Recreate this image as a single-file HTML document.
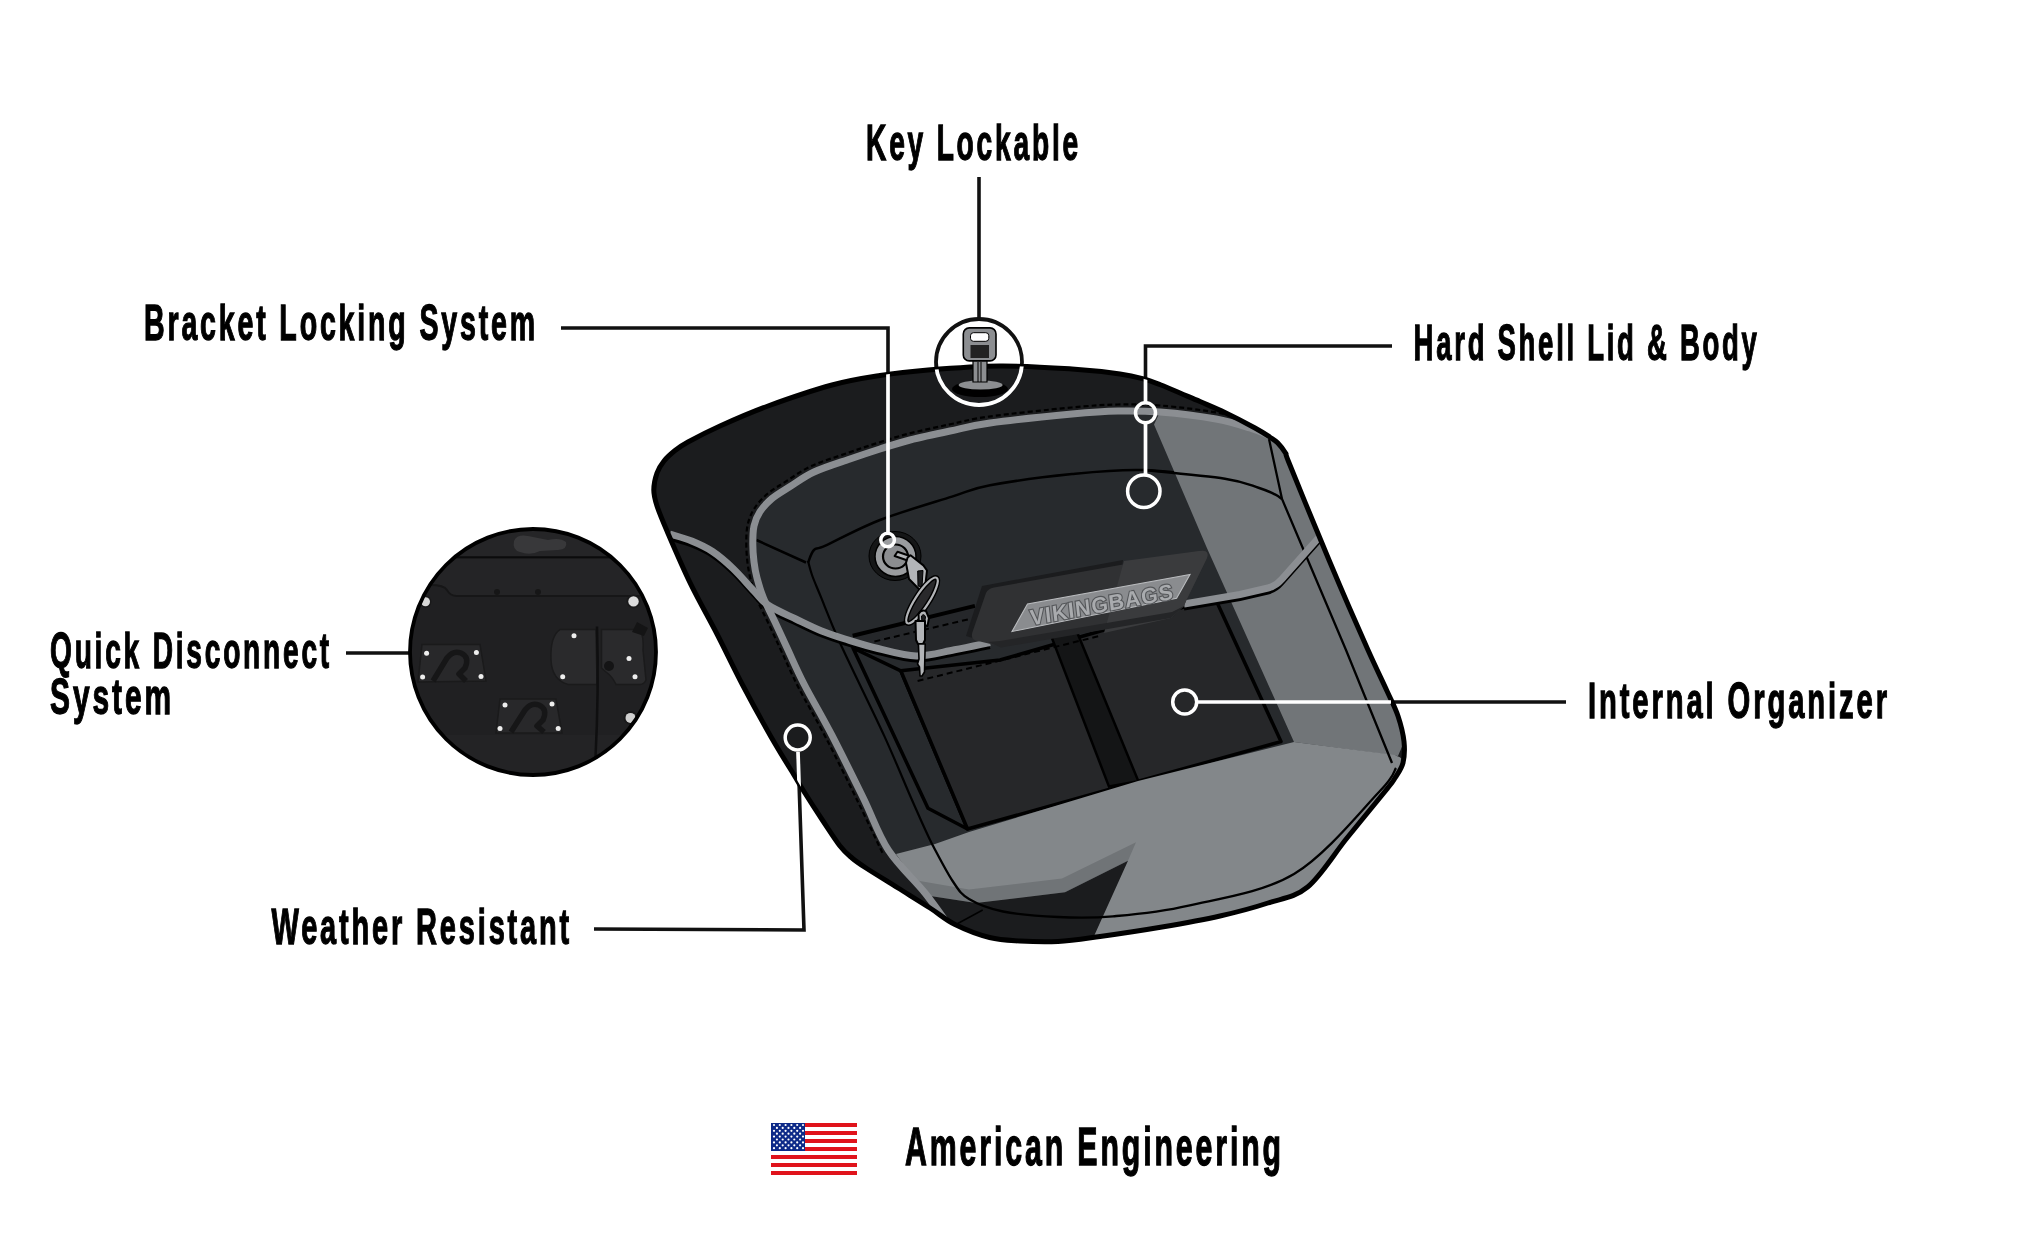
<!DOCTYPE html><html><head><meta charset="utf-8"><style>html,body{margin:0;padding:0;background:#fff;width:2044px;height:1248px;overflow:hidden}svg{display:block;will-change:transform}</style></head><body>
<svg width="2044" height="1248" viewBox="0 0 2044 1248">
<defs><clipPath id="bag"><path d="M653.8,490.0 C653.8,484.5 655.3,477.8 657.0,473.0 C658.7,468.2 661.0,464.8 664.0,461.0 C667.0,457.2 671.0,453.7 675.0,450.5 C679.0,447.3 680.5,446.1 688.0,442.0 C695.5,437.9 706.7,432.0 720.0,426.0 C733.3,420.0 749.3,412.8 768.0,406.0 C786.7,399.2 813.3,390.1 832.0,385.0 C850.7,379.9 864.0,378.0 880.0,375.5 C896.0,373.0 908.0,371.6 928.0,370.0 C948.0,368.4 976.0,366.2 1000.0,366.0 C1024.0,365.8 1052.0,367.7 1072.0,369.0 C1092.0,370.3 1108.0,372.3 1120.0,374.0 C1132.0,375.7 1137.2,377.2 1144.0,379.0 C1150.8,380.8 1155.0,382.7 1161.0,385.0 C1167.0,387.3 1173.5,390.2 1180.0,393.0 C1186.5,395.8 1192.5,398.2 1200.0,401.5 C1207.5,404.8 1215.7,408.1 1224.9,412.5 C1234.1,416.9 1247.5,423.9 1255.0,428.0 C1262.5,432.1 1265.9,434.5 1269.7,437.0 C1273.5,439.5 1275.0,440.1 1277.6,442.8 C1280.2,445.5 1283.7,449.9 1285.5,453.0 C1287.3,456.1 1284.0,450.3 1288.5,461.5 C1293.0,472.7 1303.8,499.2 1312.4,520.0 C1321.0,540.8 1330.7,564.3 1340.0,586.0 C1349.3,607.7 1360.2,632.5 1368.0,650.0 C1375.8,667.5 1382.0,680.0 1387.0,691.0 C1392.0,702.0 1395.2,707.6 1398.0,716.0 C1400.8,724.4 1403.2,733.8 1404.0,741.6 C1404.8,749.4 1404.5,756.7 1403.0,762.8 C1401.5,768.9 1397.7,773.6 1395.0,778.0 C1392.3,782.4 1395.0,779.0 1387.0,789.0 C1379.0,799.0 1360.2,821.7 1347.0,838.0 C1333.8,854.3 1320.8,876.2 1307.6,887.0 C1294.4,897.8 1282.6,898.2 1268.0,903.0 C1253.4,907.8 1237.7,912.0 1220.0,916.0 C1202.3,920.0 1182.0,923.6 1162.0,927.0 C1142.0,930.4 1117.3,934.1 1100.0,936.5 C1082.7,938.9 1071.3,940.8 1058.0,941.5 C1044.7,942.2 1031.4,941.7 1020.0,941.0 C1008.6,940.3 1000.4,940.2 989.6,937.5 C978.8,934.8 964.9,929.4 955.0,924.5 C945.1,919.6 939.5,914.1 930.0,908.0 C920.5,901.9 908.7,894.7 898.0,888.0 C887.3,881.3 873.7,873.0 866.0,868.0 C858.3,863.0 856.3,861.7 852.0,858.0 C847.7,854.3 844.8,852.2 840.0,846.0 C835.2,839.8 829.2,830.3 823.0,821.0 C816.8,811.7 807.8,797.7 803.0,790.0 C798.2,782.3 799.4,783.9 794.0,775.0 C788.6,766.1 779.4,751.4 770.8,736.4 C762.2,721.4 751.6,702.1 742.6,685.0 C733.6,667.9 725.8,651.1 717.0,634.0 C708.2,616.9 698.3,599.8 690.0,582.6 C681.7,565.4 672.5,543.8 667.0,531.0 C661.5,518.2 659.2,512.8 657.0,506.0 C654.8,499.2 653.8,495.5 653.8,490.0Z"/></clipPath><clipPath id="qd"><circle cx="533" cy="652" r="122"/></clipPath></defs>
<g stroke="#111" stroke-width="3.6" fill="none">
<path d="M979,177 L979,318"/>
<path d="M561,328 L888,328 L888,532"/>
<path d="M1392,346 L1145.5,346 L1145.5,402"/>
<path d="M1566,702 L1199,702"/>
<path d="M346,653 L412,653"/>
<path d="M594,929 L804,930 L798,752"/>
<circle cx="979" cy="362" r="43" stroke-width="3.8"/>
</g>
<path d="M653.8,490.0 C653.8,484.5 655.3,477.8 657.0,473.0 C658.7,468.2 661.0,464.8 664.0,461.0 C667.0,457.2 671.0,453.7 675.0,450.5 C679.0,447.3 680.5,446.1 688.0,442.0 C695.5,437.9 706.7,432.0 720.0,426.0 C733.3,420.0 749.3,412.8 768.0,406.0 C786.7,399.2 813.3,390.1 832.0,385.0 C850.7,379.9 864.0,378.0 880.0,375.5 C896.0,373.0 908.0,371.6 928.0,370.0 C948.0,368.4 976.0,366.2 1000.0,366.0 C1024.0,365.8 1052.0,367.7 1072.0,369.0 C1092.0,370.3 1108.0,372.3 1120.0,374.0 C1132.0,375.7 1137.2,377.2 1144.0,379.0 C1150.8,380.8 1155.0,382.7 1161.0,385.0 C1167.0,387.3 1173.5,390.2 1180.0,393.0 C1186.5,395.8 1192.5,398.2 1200.0,401.5 C1207.5,404.8 1215.7,408.1 1224.9,412.5 C1234.1,416.9 1247.5,423.9 1255.0,428.0 C1262.5,432.1 1265.9,434.5 1269.7,437.0 C1273.5,439.5 1275.0,440.1 1277.6,442.8 C1280.2,445.5 1283.7,449.9 1285.5,453.0 C1287.3,456.1 1284.0,450.3 1288.5,461.5 C1293.0,472.7 1303.8,499.2 1312.4,520.0 C1321.0,540.8 1330.7,564.3 1340.0,586.0 C1349.3,607.7 1360.2,632.5 1368.0,650.0 C1375.8,667.5 1382.0,680.0 1387.0,691.0 C1392.0,702.0 1395.2,707.6 1398.0,716.0 C1400.8,724.4 1403.2,733.8 1404.0,741.6 C1404.8,749.4 1404.5,756.7 1403.0,762.8 C1401.5,768.9 1397.7,773.6 1395.0,778.0 C1392.3,782.4 1395.0,779.0 1387.0,789.0 C1379.0,799.0 1360.2,821.7 1347.0,838.0 C1333.8,854.3 1320.8,876.2 1307.6,887.0 C1294.4,897.8 1282.6,898.2 1268.0,903.0 C1253.4,907.8 1237.7,912.0 1220.0,916.0 C1202.3,920.0 1182.0,923.6 1162.0,927.0 C1142.0,930.4 1117.3,934.1 1100.0,936.5 C1082.7,938.9 1071.3,940.8 1058.0,941.5 C1044.7,942.2 1031.4,941.7 1020.0,941.0 C1008.6,940.3 1000.4,940.2 989.6,937.5 C978.8,934.8 964.9,929.4 955.0,924.5 C945.1,919.6 939.5,914.1 930.0,908.0 C920.5,901.9 908.7,894.7 898.0,888.0 C887.3,881.3 873.7,873.0 866.0,868.0 C858.3,863.0 856.3,861.7 852.0,858.0 C847.7,854.3 844.8,852.2 840.0,846.0 C835.2,839.8 829.2,830.3 823.0,821.0 C816.8,811.7 807.8,797.7 803.0,790.0 C798.2,782.3 799.4,783.9 794.0,775.0 C788.6,766.1 779.4,751.4 770.8,736.4 C762.2,721.4 751.6,702.1 742.6,685.0 C733.6,667.9 725.8,651.1 717.0,634.0 C708.2,616.9 698.3,599.8 690.0,582.6 C681.7,565.4 672.5,543.8 667.0,531.0 C661.5,518.2 659.2,512.8 657.0,506.0 C654.8,499.2 653.8,495.5 653.8,490.0Z" fill="#1b1c1e"/>
<g clip-path="url(#bag)">
<path d="M948.5,925.0 C944.6,919.7 935.0,905.5 925.0,893.0 C915.0,880.5 898.6,865.8 888.3,850.0 C878.0,834.2 872.7,817.1 863.3,798.0 C853.9,778.9 841.9,754.4 832.0,735.4 C822.1,716.4 811.3,698.2 804.0,684.0 C796.7,669.8 792.8,660.3 788.0,650.0 C783.2,639.7 779.1,630.7 775.0,622.0 C770.9,613.3 766.5,605.3 763.5,598.0 C760.5,590.7 758.6,584.0 757.0,578.0 C755.4,572.0 754.7,567.7 754.0,562.0 C753.3,556.3 752.8,550.0 752.8,544.0 C752.8,538.0 752.8,531.4 754.0,526.0 C755.2,520.6 757.0,516.3 760.0,511.7 C763.0,507.1 767.0,502.7 772.0,498.5 C777.0,494.3 783.1,490.9 790.1,486.5 C797.1,482.1 804.0,476.6 814.0,472.0 C824.0,467.4 839.0,462.8 850.0,459.0 C861.0,455.2 870.0,452.2 880.0,449.0 C890.0,445.8 898.3,443.0 910.0,440.0 C921.7,437.0 936.7,433.8 950.0,431.0 C963.3,428.2 969.7,425.8 990.0,423.0 C1010.3,420.2 1050.7,416.0 1072.0,414.0 C1093.3,412.0 1103.3,411.3 1118.0,411.0 C1132.7,410.7 1143.7,410.7 1160.0,412.0 C1176.3,413.3 1201.0,416.3 1216.0,419.0 C1231.0,421.7 1241.0,425.2 1250.0,428.0 C1259.0,430.8 1266.7,434.7 1270.0,436.0L1270.0,436.0 L1269.0,439.0 L1282.0,499.0 L1346.0,650.0 L1392.0,763.0 L1392.0,763.0 C1389.8,767.8 1395.3,773.5 1379.0,792.0 C1362.7,810.5 1325.7,855.1 1294.0,874.0 C1262.3,892.9 1219.4,898.6 1188.6,905.6 C1157.8,912.6 1130.8,914.1 1109.0,916.0 C1087.2,917.9 1075.7,917.8 1058.0,917.0 C1040.3,916.2 1017.8,914.5 1003.0,911.5 C988.2,908.5 978.1,896.8 969.0,899.0 C959.9,901.2 951.9,920.7 948.5,925.0Z" fill="#272a2d"/>
<path d="M882.4,852.8 C878.3,844.2 866.8,819.9 857.5,800.9 C848.1,781.8 836.1,757.4 826.2,738.4 C816.4,719.4 805.6,701.3 798.2,687.0 C790.9,672.7 787.0,663.1 782.1,652.8 C777.3,642.4 773.2,633.5 769.1,624.8 C765.0,616.1 760.6,608.0 757.5,600.5 C754.4,592.9 752.4,585.9 750.7,579.7 C749.1,573.4 748.3,568.7 747.5,562.8 C746.8,556.9 746.3,550.4 746.3,544.0 C746.3,537.6 746.3,530.6 747.7,524.6 C749.0,518.6 751.2,513.3 754.6,508.1 C757.9,503.0 762.5,498.0 767.8,493.5 C773.2,489.0 779.4,485.6 786.6,481.0 C793.9,476.4 801.1,470.8 811.3,466.1 C821.5,461.4 836.7,456.7 847.9,452.9 C859.0,449.0 868.0,446.0 878.0,442.8 C888.1,439.6 896.6,436.7 908.4,433.7 C920.1,430.7 935.2,427.5 948.6,424.6 C962.1,421.8 968.6,419.4 989.1,416.6 C1009.6,413.7 1049.9,409.5 1071.4,407.5 C1092.9,405.5 1103.0,404.8 1117.9,404.5 C1132.7,404.2 1144.0,404.2 1160.5,405.5 C1177.1,406.9 1201.9,409.9 1217.1,412.6 C1232.3,415.3 1245.9,420.2 1251.7,421.7" fill="none" stroke="#000" stroke-width="2.2" stroke-dasharray="5 3"/>
<path d="M756.4,540.0 L806.0,562.5 M808.0,562.8 C809.0,560.7 811.0,552.9 814.0,550.0 C817.0,547.1 815.0,550.4 826.0,545.4 C837.0,540.4 859.0,528.1 880.0,520.0 C901.0,511.9 933.7,502.4 952.0,496.6 C970.3,490.8 970.0,489.1 990.0,485.3 C1010.0,481.5 1046.5,476.6 1072.0,474.0 C1097.5,471.4 1117.5,469.2 1143.0,470.0 C1168.5,470.8 1205.7,475.8 1224.9,478.7 C1244.2,481.6 1250.2,485.1 1258.5,487.7 C1266.8,490.3 1271.1,492.5 1275.0,494.4 C1278.9,496.3 1280.8,498.2 1282.0,499.0" fill="none" stroke="#000" stroke-width="2.5"/>
<path d="M808.0,561.0 C808.7,563.3 809.9,569.0 812.0,575.0 C814.1,581.0 816.1,585.2 820.8,596.7 C825.5,608.2 829.9,620.6 840.4,643.8 C850.9,666.9 872.1,709.4 884.0,735.4 C895.9,761.4 904.0,781.9 912.0,800.0 C920.0,818.1 925.2,830.5 932.0,844.0 C938.8,857.5 946.4,871.8 952.6,881.0 C958.8,890.2 960.6,893.9 969.0,899.0 C977.4,904.1 988.2,908.5 1003.0,911.5 C1017.8,914.5 1039.7,916.2 1058.0,917.0 C1076.3,917.8 1091.2,918.2 1113.0,916.3 C1134.8,914.4 1158.4,912.6 1188.6,905.6 C1218.8,898.6 1262.3,892.9 1294.0,874.0 C1325.7,855.1 1362.0,809.7 1379.0,792.0 C1396.0,774.3 1393.2,772.0 1396.0,768.0" fill="none" stroke="#000" stroke-width="2.2"/>
<path d="M853.0,648.0 L900.8,670.8 L967.5,829.0 L928.0,808.3Z" fill="#272a2d" stroke="#000" stroke-width="3.5" stroke-linejoin="round"/>
<path d="M852.7,635.8 L974.9,605.9 L1000,640 L916,660 L878,652Z" fill="#25272a"/>
<path d="M900.8,670.8 L1000.0,660.0 L1215.0,598.0 L1281.0,741.6 L1138.4,781.3 L967.5,829.0Z" fill="#262729" stroke="#000" stroke-width="3.5" stroke-linejoin="round"/>
<path d="M1045.0,620.0 L1070.0,615.0 L1138.4,781.3 L1109.0,786.6Z" fill="#141516" stroke="#000" stroke-width="2.5"/>
<path d="M852.7,635.8 L974.9,605.9" stroke="#000" stroke-width="4"/>
<path d="M874.4,641.5 L968.5,619.3" stroke="#000" stroke-width="2" stroke-dasharray="6 4"/>
<path d="M917.6,681 L1100,635.8" stroke="#000" stroke-width="2" stroke-dasharray="6 4"/>
<path d="M669.8,534.0 C673.4,535.2 684.6,538.1 691.7,541.0 C698.8,543.9 705.6,546.9 712.5,551.5 C719.4,556.1 726.1,561.9 733.0,568.5 C739.9,575.1 748.2,584.9 754.0,591.0 C759.8,597.1 761.0,600.3 768.0,605.0 C775.0,609.7 786.8,614.7 795.8,619.0 C804.8,623.3 813.5,627.7 821.7,631.0 C829.9,634.3 835.6,636.1 845.0,639.0 C854.4,641.9 866.1,645.7 878.0,648.5 C889.9,651.3 903.5,655.8 916.3,656.0 C929.0,656.2 942.2,652.0 954.5,649.8 C966.8,647.5 984.1,643.7 990.0,642.5" fill="none" stroke="#000" stroke-width="4" transform="translate(0,4.5)"/>
<path d="M669.8,534.0 C673.4,535.2 684.6,538.1 691.7,541.0 C698.8,543.9 705.6,546.9 712.5,551.5 C719.4,556.1 726.1,561.9 733.0,568.5 C739.9,575.1 748.2,584.9 754.0,591.0 C759.8,597.1 761.0,600.3 768.0,605.0 C775.0,609.7 786.8,614.7 795.8,619.0 C804.8,623.3 813.5,627.7 821.7,631.0 C829.9,634.3 835.6,636.1 845.0,639.0 C854.4,641.9 866.1,645.7 878.0,648.5 C889.9,651.3 903.5,655.8 916.3,656.0 C929.0,656.2 942.2,652.0 954.5,649.8 C966.8,647.5 984.1,643.7 990.0,642.5" fill="none" stroke="#8b8e92" stroke-width="7"/>
<path d="M1154.0,424.4 L1160.0,412.0 L1216.0,419.0 L1250.0,428.0 L1270.0,436.0 L1290.0,455.0 L1368.0,650.0 L1395.0,705.0 L1404.0,742.0 L1398.0,756.0 L1294.0,742.0 L1206.7,547.4Z" fill="#717578"/>
<path d="M1294.0,742.0 L1395.0,755.0 L1395.0,755.0 C1396.3,756.3 1404.3,757.3 1403.0,763.0 C1401.7,768.7 1389.7,784.7 1387.0,789.0L1387.0,789.0 C1373.7,805.3 1326.8,868.0 1307.0,887.0 C1287.2,906.0 1292.2,896.3 1268.0,903.0 C1243.8,909.7 1190.7,921.5 1162.0,927.0 C1133.3,932.5 1118.0,933.8 1096.0,936.0 C1074.0,938.2 1047.7,939.5 1030.0,940.0 C1012.3,940.5 1002.1,940.5 989.6,939.0 C977.1,937.5 962.6,933.0 955.0,930.7 C947.4,928.4 945.8,926.0 944.0,925.0L944.0,925.0 L920.0,888.0 L896.0,854.0 L935.0,844.0 L969.0,832.0 L1138.0,781.0 L1294.0,742.0 Z" fill="#83878a"/>
<path d="M914.0,880.0 L969.0,889.6 L1062.0,878.6 L1136.0,842.3 L1128.0,860.8 L1065.0,892.3 L976.0,903.0 L923.8,895.0Z" fill="#707477"/>
<path d="M923.8,895.0 L976.0,903.0 L1065.0,892.3 L1128.0,860.8 L1090.0,945.0 L989.6,948.0 L955.0,940.0 L935.0,930.0Z" fill="#1b1c1e"/>
<path d="M955,925 L982.7,910" stroke="#000" stroke-width="1.5"/>
<path d="M1143.0,470.0 C1156.7,471.4 1205.7,475.8 1224.9,478.7 C1244.2,481.6 1250.2,485.1 1258.5,487.7 C1266.8,490.3 1271.1,492.5 1275.0,494.4 C1278.9,496.3 1280.8,498.2 1282.0,499.0" fill="none" stroke="#000" stroke-width="2.5"/>
<path d="M1269.0,439.0 L1282.0,499.0 L1346.0,650.0 L1392.0,763.0" fill="none" stroke="#000" stroke-width="2.3"/>
<path d="M932.0,844.0 C935.4,850.2 946.4,871.8 952.6,881.0 C958.8,890.2 960.6,893.9 969.0,899.0 C977.4,904.1 988.2,908.5 1003.0,911.5 C1017.8,914.5 1039.7,916.2 1058.0,917.0 C1076.3,917.8 1091.2,918.2 1113.0,916.3 C1134.8,914.4 1158.4,912.6 1188.6,905.6 C1218.8,898.6 1262.3,892.9 1294.0,874.0 C1325.7,855.1 1362.0,809.7 1379.0,792.0 C1396.0,774.3 1393.2,772.0 1396.0,768.0" fill="none" stroke="#000" stroke-width="2.3"/>
<path d="M948.5,925.0 C944.6,919.7 935.0,905.5 925.0,893.0 C915.0,880.5 898.6,865.8 888.3,850.0 C878.0,834.2 872.7,817.1 863.3,798.0 C853.9,778.9 841.9,754.4 832.0,735.4 C822.1,716.4 811.3,698.2 804.0,684.0 C796.7,669.8 792.8,660.3 788.0,650.0 C783.2,639.7 779.1,630.7 775.0,622.0 C770.9,613.3 766.5,605.3 763.5,598.0 C760.5,590.7 758.6,584.0 757.0,578.0 C755.4,572.0 754.7,567.7 754.0,562.0 C753.3,556.3 752.8,550.0 752.8,544.0 C752.8,538.0 752.8,531.4 754.0,526.0 C755.2,520.6 757.0,516.3 760.0,511.7 C763.0,507.1 767.0,502.7 772.0,498.5 C777.0,494.3 783.1,490.9 790.1,486.5 C797.1,482.1 804.0,476.6 814.0,472.0 C824.0,467.4 839.0,462.8 850.0,459.0 C861.0,455.2 870.0,452.2 880.0,449.0 C890.0,445.8 898.3,443.0 910.0,440.0 C921.7,437.0 936.7,433.8 950.0,431.0 C963.3,428.2 969.7,425.8 990.0,423.0 C1010.3,420.2 1050.7,416.0 1072.0,414.0 C1093.3,412.0 1103.3,411.3 1118.0,411.0 C1132.7,410.7 1143.7,410.7 1160.0,412.0 C1176.3,413.3 1201.0,416.3 1216.0,419.0 C1231.0,421.7 1241.0,425.2 1250.0,428.0 C1259.0,430.8 1266.7,434.7 1270.0,436.0" fill="none" stroke="#8b8e92" stroke-width="7"/>
<path d="M1184,604 L1240,594.5 L1268,588 Q1276,586 1282,579 L1322,534 L1345,515" fill="none" stroke="#000" stroke-width="4" transform="translate(0,4.5)"/>
<path d="M1184,604 L1240,594.5 L1268,588 Q1276,586 1282,579 L1322,534 L1345,515" fill="none" stroke="#8b8e92" stroke-width="7"/>
</g>
<path d="M653.8,490.0 C653.8,484.5 655.3,477.8 657.0,473.0 C658.7,468.2 661.0,464.8 664.0,461.0 C667.0,457.2 671.0,453.7 675.0,450.5 C679.0,447.3 680.5,446.1 688.0,442.0 C695.5,437.9 706.7,432.0 720.0,426.0 C733.3,420.0 749.3,412.8 768.0,406.0 C786.7,399.2 813.3,390.1 832.0,385.0 C850.7,379.9 864.0,378.0 880.0,375.5 C896.0,373.0 908.0,371.6 928.0,370.0 C948.0,368.4 976.0,366.2 1000.0,366.0 C1024.0,365.8 1052.0,367.7 1072.0,369.0 C1092.0,370.3 1108.0,372.3 1120.0,374.0 C1132.0,375.7 1137.2,377.2 1144.0,379.0 C1150.8,380.8 1155.0,382.7 1161.0,385.0 C1167.0,387.3 1173.5,390.2 1180.0,393.0 C1186.5,395.8 1192.5,398.2 1200.0,401.5 C1207.5,404.8 1215.7,408.1 1224.9,412.5 C1234.1,416.9 1247.5,423.9 1255.0,428.0 C1262.5,432.1 1265.9,434.5 1269.7,437.0 C1273.5,439.5 1275.0,440.1 1277.6,442.8 C1280.2,445.5 1283.7,449.9 1285.5,453.0 C1287.3,456.1 1284.0,450.3 1288.5,461.5 C1293.0,472.7 1303.8,499.2 1312.4,520.0 C1321.0,540.8 1330.7,564.3 1340.0,586.0 C1349.3,607.7 1360.2,632.5 1368.0,650.0 C1375.8,667.5 1382.0,680.0 1387.0,691.0 C1392.0,702.0 1395.2,707.6 1398.0,716.0 C1400.8,724.4 1403.2,733.8 1404.0,741.6 C1404.8,749.4 1404.5,756.7 1403.0,762.8 C1401.5,768.9 1397.7,773.6 1395.0,778.0 C1392.3,782.4 1395.0,779.0 1387.0,789.0 C1379.0,799.0 1360.2,821.7 1347.0,838.0 C1333.8,854.3 1320.8,876.2 1307.6,887.0 C1294.4,897.8 1282.6,898.2 1268.0,903.0 C1253.4,907.8 1237.7,912.0 1220.0,916.0 C1202.3,920.0 1182.0,923.6 1162.0,927.0 C1142.0,930.4 1117.3,934.1 1100.0,936.5 C1082.7,938.9 1071.3,940.8 1058.0,941.5 C1044.7,942.2 1031.4,941.7 1020.0,941.0 C1008.6,940.3 1000.4,940.2 989.6,937.5 C978.8,934.8 964.9,929.4 955.0,924.5 C945.1,919.6 939.5,914.1 930.0,908.0 C920.5,901.9 908.7,894.7 898.0,888.0 C887.3,881.3 873.7,873.0 866.0,868.0 C858.3,863.0 856.3,861.7 852.0,858.0 C847.7,854.3 844.8,852.2 840.0,846.0 C835.2,839.8 829.2,830.3 823.0,821.0 C816.8,811.7 807.8,797.7 803.0,790.0 C798.2,782.3 799.4,783.9 794.0,775.0 C788.6,766.1 779.4,751.4 770.8,736.4 C762.2,721.4 751.6,702.1 742.6,685.0 C733.6,667.9 725.8,651.1 717.0,634.0 C708.2,616.9 698.3,599.8 690.0,582.6 C681.7,565.4 672.5,543.8 667.0,531.0 C661.5,518.2 659.2,512.8 657.0,506.0 C654.8,499.2 653.8,495.5 653.8,490.0Z" fill="none" stroke="#000" stroke-width="5" stroke-linejoin="round"/>
<path d="M966,636 L982,586 L1123,560 L1118,600 L1000,646Z" fill="#1b1c1e"/>
<path d="M978,641 Q970,640 972.5,632 L986,593 Q988,588.5 994,587.5 L1199,551 Q1210,549 1207,558 L1186,601 L1184,606 L1171,618 L1001,646.5 Z" fill="#303133"/>
<path d="M1124,561 L1199,551 Q1210,549 1207,558 L1186,601 L1184,606 L1171,618 L1104,633Z" fill="#3a3b3d"/>
<path d="M988,642 L1001,647.5 L1171,618 L1184,606 L1172,612 L1000,641Z" fill="#242527"/>
<path d="M1012,631.5 L1027.5,604 L1190,574.5 L1176.6,598.3Z" fill="#8a8c8f" stroke="#b9bbbe" stroke-width="1.1"/>
<text x="0" y="0" transform="translate(1031,625.5) rotate(-10.6) skewX(-4)" font-family="'Liberation Sans', sans-serif" font-weight="bold" font-size="22" fill="#a9abae" stroke="#55575a" stroke-width="2.2" paint-order="stroke" letter-spacing="1" textLength="146" lengthAdjust="spacingAndGlyphs">VIKINGBAGS</text>
<ellipse cx="895" cy="556" rx="26" ry="24.5" fill="#151617" stroke="#000" stroke-width="1"/>
<ellipse cx="895.5" cy="556.5" rx="20.5" ry="20" fill="#9a9c9f" stroke="#000" stroke-width="1.5"/>
<ellipse cx="895.5" cy="556.5" rx="12.5" ry="12" fill="#8b8d90" stroke="#000" stroke-width="2.2"/>
<g stroke="#000" stroke-width="2" stroke-linejoin="round">
<path d="M894.6,556 L897.5,551.7 L910,556 L909,561Z" fill="#b3b5b8"/>
<path d="M907.6,557.5 L910.5,555.3 L923.4,565.4 L927,570.5 L925,587.8 L920.6,590.7 L909,579 L906,563Z" fill="#b3b5b8"/>
<path d="M917.7,571 L923,570.5 L922,587 L918,586Z" fill="#1d1e20" stroke-width="1"/>
<ellipse cx="922" cy="600.5" rx="27" ry="6.8" transform="rotate(-57 922 600.5)" fill="#29292b" stroke="#000" stroke-width="5"/>
<ellipse cx="922" cy="600.5" rx="27" ry="6.8" transform="rotate(-57 922 600.5)" fill="none" stroke="#b3b5b8" stroke-width="2.2"/>
<path d="M919,624 L918.5,614 Q921,609 926,611 L929,618 L927.5,626Z" fill="#b3b5b8"/>
<path d="M921.5,616 Q924,613 925.5,617 L924.5,623 L922,623Z" fill="#1d1e20" stroke-width="1"/>
<path d="M915.5,621 L925,621 L925,640 L923,644 L918,644 L916,640Z" fill="#b3b5b8"/>
<path d="M918.4,644 L925.2,644 L924.5,672 L922,676 L920,676 L919.5,667 L917.5,664 L919,659Z" fill="#b3b5b8" stroke-width="1.6"/>
</g>
<ellipse cx="980" cy="389" rx="28" ry="8" fill="#000"/>
<ellipse cx="980.6" cy="385" rx="22" ry="4.5" fill="#8c8e91"/>
<path d="M973,360 L987,360 L987,382 L973,382Z" fill="#8c8e91" stroke="#000" stroke-width="1.2"/>
<path d="M978,362 L978,382 M981,362 L981,382" stroke="#000" stroke-width="1"/>
<rect x="963.3" y="327.9" width="32.7" height="33" rx="6" fill="#8c8e91" stroke="#000" stroke-width="1.6"/>
<rect x="970.5" y="332.7" width="18.3" height="8.6" rx="3" fill="#fff" stroke="#000" stroke-width="1"/>
<rect x="970.5" y="345" width="18.5" height="13" fill="#222"/>
<g clip-path="url(#bag)" stroke="#fff" stroke-width="3.7" fill="none">
<circle cx="979" cy="362" r="43" stroke-width="3.8"/>
<path d="M888,320 L888,533"/>
<path d="M1145.5,360 L1145.5,403"/>
<path d="M1145.5,423 L1145.5,475"/>
<path d="M1391,702 L1198,702"/>
<path d="M798,752 L799.6,800"/>
</g>
<g stroke="#fff" stroke-width="3.5" fill="none">
<circle cx="887.6" cy="540" r="6.8"/>
<circle cx="1145.5" cy="412.8" r="10"/>
<circle cx="1143.8" cy="491.3" r="16.2"/>
<circle cx="1184.7" cy="702" r="12"/>
<circle cx="797.7" cy="737.5" r="12.5"/>
</g>
<g clip-path="url(#qd)">
<rect x="400" y="520" width="270" height="270" fill="#202022"/>
<rect x="400" y="520" width="270" height="37" fill="#252527"/>
<path d="M520,552 Q512,550 514,541 Q517,534 528,536 L548,540 Q560,537 566,542 Q568,549 558,550 L540,551 Q530,556 520,552Z" fill="#38383a"/>
<path d="M455,557.5 L640,557.5" stroke="#0b0b0c" stroke-width="2.5"/>
<path d="M400,558.5 L670,558.5 L670,596 L455,596 Q450,596 447,590 Q444,585 436,585 L400,585Z" fill="#242426"/>
<path d="M430,585 Q444,585 447,590 Q450,596 457,596 L640,596" fill="none" stroke="#161617" stroke-width="1.8"/>
<circle cx="497" cy="592" r="3" fill="#161617"/><circle cx="538" cy="592" r="3" fill="#161617"/>
<circle cx="425.5" cy="601.8" r="6" fill="#19191a"/><circle cx="425.5" cy="601.8" r="4.5" fill="#d8d8d8"/>
<circle cx="633.5" cy="601.4" r="7" fill="#19191a"/><circle cx="633.5" cy="601.4" r="5.2" fill="#dcdcdc"/>
<circle cx="630.5" cy="717.9" r="7" fill="#19191a"/><circle cx="630.5" cy="717.9" r="5" fill="#d0d0d0"/>
<rect x="400" y="735" width="270" height="60" fill="#232325"/>
<path d="M422,644.5 L480,644.5 L486,681 L418,682Z" fill="#28282a" stroke="#1a1a1b" stroke-width="1.5"/>
<path d="M433,681 L447,658 Q453,650 461,653 Q470,657 465,668 L459,674 L466,681" fill="none" stroke="#161617" stroke-width="5.5" stroke-linejoin="round"/>
<path d="M500,699 L556,699 L562,733 L496,733Z" fill="#28282a" stroke="#1a1a1b" stroke-width="1.5"/>
<path d="M511,732 L525,710 Q531,702 539,705 Q548,709 543,720 L537,726 L544,732" fill="none" stroke="#161617" stroke-width="5.5" stroke-linejoin="round"/>
<path d="M560,629.6 L596,629.6 L597,684.4 L568,684.4 Q552,680 551,660 Q550,636 560,629.6Z" fill="#2a2a2c" stroke="#1a1a1b" stroke-width="1.5"/>
<path d="M601.5,629.6 L638,629.6 Q644,632 643,650 L646,680 Q644,684.4 640,684.4 L616,684.4 Q612,676 606,672 L601.5,668Z" fill="#2a2a2c" stroke="#1a1a1b" stroke-width="1.5"/>
<circle cx="609" cy="666" r="5" fill="#141415"/>
<path d="M637,622 L648,628 L644,636 L632,632Z" fill="#141415"/>
<path d="M597,626.5 Q599,690 595.4,760" fill="none" stroke="#0f0f10" stroke-width="2.5"/>
<circle cx="426.6" cy="653.2" r="2.5" fill="#eeeeee"/>
<circle cx="476.4" cy="652.6" r="2.5" fill="#eeeeee"/>
<circle cx="422.6" cy="677" r="2.5" fill="#eeeeee"/>
<circle cx="481" cy="676.5" r="2.5" fill="#eeeeee"/>
<circle cx="505" cy="705" r="2.5" fill="#eeeeee"/>
<circle cx="552" cy="704" r="2.5" fill="#eeeeee"/>
<circle cx="500" cy="728.5" r="2.5" fill="#eeeeee"/>
<circle cx="558.2" cy="728.5" r="2.5" fill="#eeeeee"/>
<circle cx="574" cy="635.7" r="2.5" fill="#eeeeee"/>
<circle cx="562.7" cy="676.8" r="2.5" fill="#eeeeee"/>
<circle cx="629" cy="658.5" r="2.5" fill="#eeeeee"/>
<circle cx="635" cy="676.8" r="2.5" fill="#eeeeee"/>
</g>
<circle cx="533" cy="652" r="123" fill="none" stroke="#000" stroke-width="3.8"/>
<g>
<rect x="771" y="1123.00" width="86" height="4.00" fill="#e0131b"/>
<rect x="771" y="1127.00" width="86" height="4.00" fill="#ffffff"/>
<rect x="771" y="1131.00" width="86" height="4.00" fill="#e0131b"/>
<rect x="771" y="1135.00" width="86" height="4.00" fill="#ffffff"/>
<rect x="771" y="1139.00" width="86" height="4.00" fill="#e0131b"/>
<rect x="771" y="1143.00" width="86" height="4.00" fill="#ffffff"/>
<rect x="771" y="1147.00" width="86" height="4.00" fill="#e0131b"/>
<rect x="771" y="1151.00" width="86" height="4.00" fill="#ffffff"/>
<rect x="771" y="1155.00" width="86" height="4.00" fill="#e0131b"/>
<rect x="771" y="1159.00" width="86" height="4.00" fill="#ffffff"/>
<rect x="771" y="1163.00" width="86" height="4.00" fill="#e0131b"/>
<rect x="771" y="1167.00" width="86" height="4.00" fill="#ffffff"/>
<rect x="771" y="1171.00" width="86" height="4.00" fill="#e0131b"/>
<rect x="771" y="1123" width="34" height="28" fill="#0d2a88"/>
<circle cx="774.0" cy="1125.0" r="1.1" fill="#fff"/>
<circle cx="779.8" cy="1125.0" r="1.1" fill="#fff"/>
<circle cx="785.6" cy="1125.0" r="1.1" fill="#fff"/>
<circle cx="791.4" cy="1125.0" r="1.1" fill="#fff"/>
<circle cx="797.2" cy="1125.0" r="1.1" fill="#fff"/>
<circle cx="803.0" cy="1125.0" r="1.1" fill="#fff"/>
<circle cx="776.9" cy="1127.9" r="1.1" fill="#fff"/>
<circle cx="782.7" cy="1127.9" r="1.1" fill="#fff"/>
<circle cx="788.5" cy="1127.9" r="1.1" fill="#fff"/>
<circle cx="794.3" cy="1127.9" r="1.1" fill="#fff"/>
<circle cx="800.1" cy="1127.9" r="1.1" fill="#fff"/>
<circle cx="774.0" cy="1130.8" r="1.1" fill="#fff"/>
<circle cx="779.8" cy="1130.8" r="1.1" fill="#fff"/>
<circle cx="785.6" cy="1130.8" r="1.1" fill="#fff"/>
<circle cx="791.4" cy="1130.8" r="1.1" fill="#fff"/>
<circle cx="797.2" cy="1130.8" r="1.1" fill="#fff"/>
<circle cx="803.0" cy="1130.8" r="1.1" fill="#fff"/>
<circle cx="776.9" cy="1133.7" r="1.1" fill="#fff"/>
<circle cx="782.7" cy="1133.7" r="1.1" fill="#fff"/>
<circle cx="788.5" cy="1133.7" r="1.1" fill="#fff"/>
<circle cx="794.3" cy="1133.7" r="1.1" fill="#fff"/>
<circle cx="800.1" cy="1133.7" r="1.1" fill="#fff"/>
<circle cx="774.0" cy="1136.6" r="1.1" fill="#fff"/>
<circle cx="779.8" cy="1136.6" r="1.1" fill="#fff"/>
<circle cx="785.6" cy="1136.6" r="1.1" fill="#fff"/>
<circle cx="791.4" cy="1136.6" r="1.1" fill="#fff"/>
<circle cx="797.2" cy="1136.6" r="1.1" fill="#fff"/>
<circle cx="803.0" cy="1136.6" r="1.1" fill="#fff"/>
<circle cx="776.9" cy="1139.5" r="1.1" fill="#fff"/>
<circle cx="782.7" cy="1139.5" r="1.1" fill="#fff"/>
<circle cx="788.5" cy="1139.5" r="1.1" fill="#fff"/>
<circle cx="794.3" cy="1139.5" r="1.1" fill="#fff"/>
<circle cx="800.1" cy="1139.5" r="1.1" fill="#fff"/>
<circle cx="774.0" cy="1142.4" r="1.1" fill="#fff"/>
<circle cx="779.8" cy="1142.4" r="1.1" fill="#fff"/>
<circle cx="785.6" cy="1142.4" r="1.1" fill="#fff"/>
<circle cx="791.4" cy="1142.4" r="1.1" fill="#fff"/>
<circle cx="797.2" cy="1142.4" r="1.1" fill="#fff"/>
<circle cx="803.0" cy="1142.4" r="1.1" fill="#fff"/>
<circle cx="776.9" cy="1145.3" r="1.1" fill="#fff"/>
<circle cx="782.7" cy="1145.3" r="1.1" fill="#fff"/>
<circle cx="788.5" cy="1145.3" r="1.1" fill="#fff"/>
<circle cx="794.3" cy="1145.3" r="1.1" fill="#fff"/>
<circle cx="800.1" cy="1145.3" r="1.1" fill="#fff"/>
<circle cx="774.0" cy="1148.2" r="1.1" fill="#fff"/>
<circle cx="779.8" cy="1148.2" r="1.1" fill="#fff"/>
<circle cx="785.6" cy="1148.2" r="1.1" fill="#fff"/>
<circle cx="791.4" cy="1148.2" r="1.1" fill="#fff"/>
<circle cx="797.2" cy="1148.2" r="1.1" fill="#fff"/>
<circle cx="803.0" cy="1148.2" r="1.1" fill="#fff"/>
</g>
<text x="866" y="159.79999999999998" font-family='"Liberation Sans", sans-serif' font-weight="bold" font-size="50.8" fill="#000" stroke="#000" stroke-width="1.3" letter-spacing="5" textLength="215" lengthAdjust="spacingAndGlyphs">Key Lockable</text>
<text x="144" y="339.7" font-family='"Liberation Sans", sans-serif' font-weight="bold" font-size="50.8" fill="#000" stroke="#000" stroke-width="1.3" letter-spacing="5" textLength="394" lengthAdjust="spacingAndGlyphs">Bracket Locking System</text>
<text x="1413.6" y="360.09999999999997" font-family='"Liberation Sans", sans-serif' font-weight="bold" font-size="50.8" fill="#000" stroke="#000" stroke-width="1.3" letter-spacing="5" textLength="346" lengthAdjust="spacingAndGlyphs">Hard Shell Lid &amp; Body</text>
<text x="1588" y="717.5" font-family='"Liberation Sans", sans-serif' font-weight="bold" font-size="50.8" fill="#000" stroke="#000" stroke-width="1.3" letter-spacing="5" textLength="302" lengthAdjust="spacingAndGlyphs">Internal Organizer</text>
<text x="50" y="668.4000000000001" font-family='"Liberation Sans", sans-serif' font-weight="bold" font-size="50.8" fill="#000" stroke="#000" stroke-width="1.3" letter-spacing="5" textLength="282" lengthAdjust="spacingAndGlyphs">Quick Disconnect</text>
<text x="50" y="713.7" font-family='"Liberation Sans", sans-serif' font-weight="bold" font-size="50.8" fill="#000" stroke="#000" stroke-width="1.3" letter-spacing="5" textLength="124" lengthAdjust="spacingAndGlyphs">System</text>
<text x="271.5" y="943.8000000000001" font-family='"Liberation Sans", sans-serif' font-weight="bold" font-size="50.8" fill="#000" stroke="#000" stroke-width="1.3" letter-spacing="5" textLength="300.6" lengthAdjust="spacingAndGlyphs">Weather Resistant</text>
<text x="905" y="1165.1000000000001" font-family='"Liberation Sans", sans-serif' font-weight="bold" font-size="53" fill="#000" stroke="#000" stroke-width="1.3" letter-spacing="5" textLength="379" lengthAdjust="spacingAndGlyphs">American Engineering</text>
</svg></body></html>
